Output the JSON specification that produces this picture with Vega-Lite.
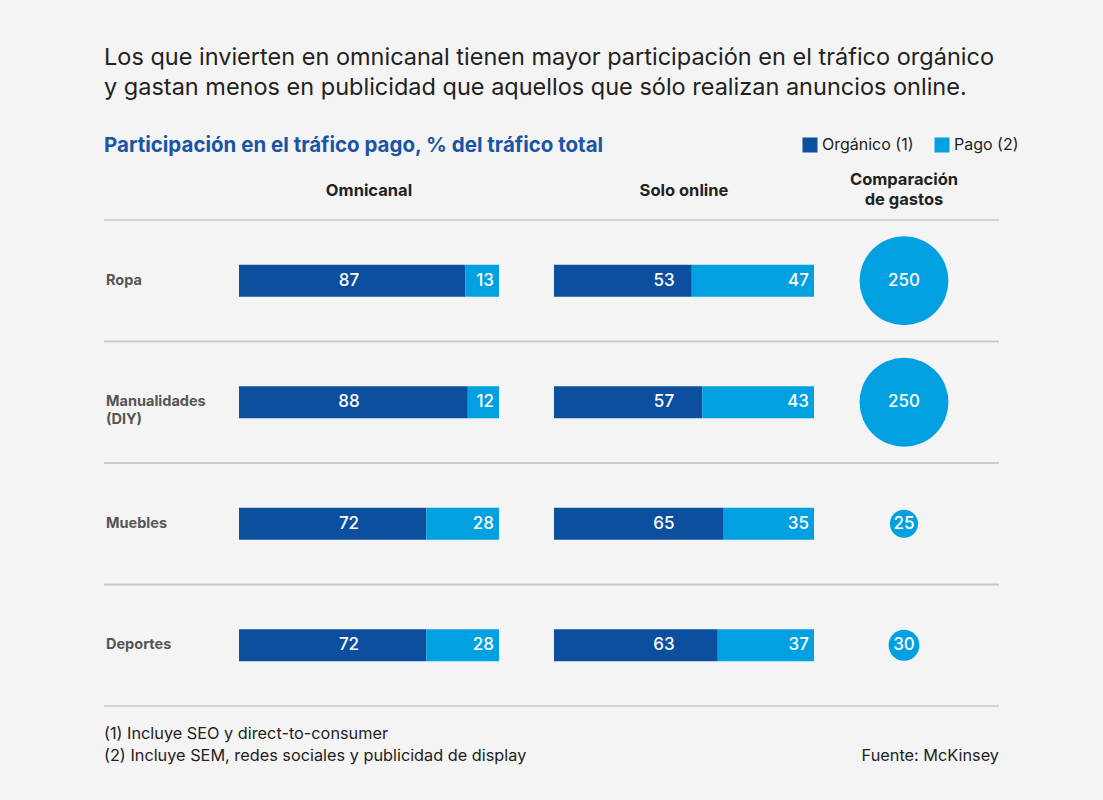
{
  "$schema": "https://vega.github.io/schema/vega-lite/v6.json",
  "background": "#f4f4f4",
  "padding": {"left": 103, "right": 105, "top": 46, "bottom": 34},
  "config": {"view": {"stroke": null}, "font": "Inter"},
  "title": {
    "text": ["Los que invierten en omnicanal tienen mayor participación en el tráfico orgánico", "y gastan menos en publicidad que aquellos que sólo realizan anuncios online."],
    "subtitle": "Participación en el tráfico pago, % del tráfico total",
    "anchor": "start",
    "frame": "group",
    "font": "Inter",
    "fontSize": 23.5,
    "fontWeight": "normal",
    "color": "#222222",
    "lineHeight": 30,
    "subtitleFont": "Inter",
    "subtitleFontSize": 20.5,
    "subtitleFontWeight": "bold",
    "subtitleColor": "#1a55a5",
    "subtitlePadding": 36,
    "offset": -19
  },
  "datasets": {
    "cats": [
      {"cat": "Ropa", "label": "Ropa"},
      {"cat": "Manualidades (DIY)", "label": "Manualidades\n(DIY)"},
      {"cat": "Muebles", "label": "Muebles"},
      {"cat": "Deportes", "label": "Deportes"}
    ],
    "bars": [
      {"cat": "Ropa", "panel": "Omnicanal", "type": "Orgánico (1)", "value": 87},
      {"cat": "Ropa", "panel": "Omnicanal", "type": "Pago (2)", "value": 13},
      {"cat": "Manualidades (DIY)", "panel": "Omnicanal", "type": "Orgánico (1)", "value": 88},
      {"cat": "Manualidades (DIY)", "panel": "Omnicanal", "type": "Pago (2)", "value": 12},
      {"cat": "Muebles", "panel": "Omnicanal", "type": "Orgánico (1)", "value": 72},
      {"cat": "Muebles", "panel": "Omnicanal", "type": "Pago (2)", "value": 28},
      {"cat": "Deportes", "panel": "Omnicanal", "type": "Orgánico (1)", "value": 72},
      {"cat": "Deportes", "panel": "Omnicanal", "type": "Pago (2)", "value": 28},
      {"cat": "Ropa", "panel": "Solo online", "type": "Orgánico (1)", "value": 53},
      {"cat": "Ropa", "panel": "Solo online", "type": "Pago (2)", "value": 47},
      {"cat": "Manualidades (DIY)", "panel": "Solo online", "type": "Orgánico (1)", "value": 57},
      {"cat": "Manualidades (DIY)", "panel": "Solo online", "type": "Pago (2)", "value": 43},
      {"cat": "Muebles", "panel": "Solo online", "type": "Orgánico (1)", "value": 65},
      {"cat": "Muebles", "panel": "Solo online", "type": "Pago (2)", "value": 35},
      {"cat": "Deportes", "panel": "Solo online", "type": "Orgánico (1)", "value": 63},
      {"cat": "Deportes", "panel": "Solo online", "type": "Pago (2)", "value": 37}
    ],
    "spend": [
      {"cat": "Ropa", "spend": 250},
      {"cat": "Manualidades (DIY)", "spend": 250},
      {"cat": "Muebles", "spend": 25},
      {"cat": "Deportes", "spend": 30}
    ],
    "notes": [
      {"side": "left", "line": 1, "text": "(1)  Incluye SEO y direct-to-consumer"},
      {"side": "left", "line": 2, "text": "(2) Incluye SEM, redes sociales y publicidad de display"},
      {"side": "right", "line": 2, "text": "Fuente: McKinsey"}
    ]
  },
  "spacing": 16,
  "vconcat": [
    {
      "spacing": 0,
      "bounds": "flush",
      "hconcat": [
        {
          "width": 135,
          "height": 486,
          "data": {"name": "cats"},
          "layer": [
            {
              "mark": {"type": "rule", "color": "#c8c8c8", "strokeWidth": 1.5},
              "encoding": {"y": {"field": "cat", "type": "nominal", "bandPosition": 0, "sort": ["Ropa", "Manualidades (DIY)", "Muebles", "Deportes"], "scale": {"type": "band", "paddingInner": 0, "paddingOuter": 0}, "axis": null}}
            },
            {
              "mark": {"type": "rule", "color": "#c8c8c8", "strokeWidth": 1.5},
              "encoding": {"y": {"field": "cat", "type": "nominal", "bandPosition": 1, "sort": ["Ropa", "Manualidades (DIY)", "Muebles", "Deportes"], "axis": null}}
            },
            {
              "mark": {"type": "text", "align": "left", "baseline": "middle", "fontSize": 14.5, "fontWeight": "bold", "color": "#555555", "lineBreak": "\n", "lineHeight": 18, "dx": 2},
              "encoding": {
                "y": {"field": "cat", "type": "nominal", "sort": ["Ropa", "Manualidades (DIY)", "Muebles", "Deportes"], "axis": null},
                "x": {"datum": 0, "type": "quantitative", "scale": {"domain": [0, 1]}, "axis": null},
                "text": {"field": "label"}
              }
            }
          ]
        },
        {
          "width": 315,
          "height": 486,
          "title": {"text": "Omnicanal", "dx": -27.5, "offset": 20, "fontSize": 16.5, "fontWeight": "bold", "color": "#222222", "anchor": "middle"},
          "layer": [
            {
              "data": {"name": "cats"},
              "mark": {"type": "rule", "color": "#c8c8c8", "strokeWidth": 1.5},
              "encoding": {"y": {"field": "cat", "type": "nominal", "bandPosition": 0, "sort": ["Ropa", "Manualidades (DIY)", "Muebles", "Deportes"], "scale": {"type": "band", "paddingInner": 0, "paddingOuter": 0}, "axis": null}}
            },
            {
              "data": {"name": "cats"},
              "mark": {"type": "rule", "color": "#c8c8c8", "strokeWidth": 1.5},
              "encoding": {"y": {"field": "cat", "type": "nominal", "bandPosition": 1, "sort": ["Ropa", "Manualidades (DIY)", "Muebles", "Deportes"], "axis": null}}
            },
            {
              "data": {"name": "bars"},
              "transform": [{"filter": "datum.panel === 'Omnicanal'"}],
              "mark": {"type": "bar", "height": 32},
              "encoding": {
                "y": {"field": "cat", "type": "nominal", "sort": ["Ropa", "Manualidades (DIY)", "Muebles", "Deportes"], "axis": null},
                "x": {"field": "value", "type": "quantitative", "stack": "zero", "scale": {"domain": [0, 121.154], "nice": false}, "axis": null},
                "color": {
                  "field": "type", "type": "nominal",
                  "scale": {"domain": ["Orgánico (1)", "Pago (2)"], "range": ["#0d4f9f", "#00a0e1"]},
                  "legend": {"title": null, "orient": "none", "legendX": 698, "legendY": -83, "direction": "horizontal", "symbolType": "square", "symbolSize": 225, "symbolStrokeWidth": 0, "symbolOpacity": 1, "labelFont": "Inter", "labelFontSize": 16, "labelColor": "#222222", "columnPadding": 20, "labelOffset": 4}
                }
              }
            },
            {
              "data": {"name": "bars"},
              "transform": [{"filter": "datum.panel === 'Omnicanal' && datum.type === 'Orgánico (1)'"}],
              "mark": {"type": "text", "align": "center", "baseline": "middle", "fontSize": 17, "fontWeight": 500, "color": "white"},
              "encoding": {
                "y": {"field": "cat", "type": "nominal", "sort": ["Ropa", "Manualidades (DIY)", "Muebles", "Deportes"], "axis": null},
                "x": {"datum": 42.3, "type": "quantitative"},
                "text": {"field": "value"}
              }
            },
            {
              "data": {"name": "bars"},
              "transform": [{"filter": "datum.panel === 'Omnicanal' && datum.type === 'Pago (2)'"}],
              "mark": {"type": "text", "align": "right", "baseline": "middle", "fontSize": 17, "fontWeight": 500, "color": "white", "dx": -5},
              "encoding": {
                "y": {"field": "cat", "type": "nominal", "sort": ["Ropa", "Manualidades (DIY)", "Muebles", "Deportes"], "axis": null},
                "x": {"datum": 100, "type": "quantitative"},
                "text": {"field": "value"}
              }
            }
          ]
        },
        {
          "width": 305,
          "height": 486,
          "title": {"text": "Solo online", "dx": -22.5, "offset": 20, "fontSize": 16.5, "fontWeight": "bold", "color": "#222222", "anchor": "middle"},
          "layer": [
            {
              "data": {"name": "cats"},
              "mark": {"type": "rule", "color": "#c8c8c8", "strokeWidth": 1.5},
              "encoding": {"y": {"field": "cat", "type": "nominal", "bandPosition": 0, "sort": ["Ropa", "Manualidades (DIY)", "Muebles", "Deportes"], "scale": {"type": "band", "paddingInner": 0, "paddingOuter": 0}, "axis": null}}
            },
            {
              "data": {"name": "cats"},
              "mark": {"type": "rule", "color": "#c8c8c8", "strokeWidth": 1.5},
              "encoding": {"y": {"field": "cat", "type": "nominal", "bandPosition": 1, "sort": ["Ropa", "Manualidades (DIY)", "Muebles", "Deportes"], "axis": null}}
            },
            {
              "data": {"name": "bars"},
              "transform": [{"filter": "datum.panel === 'Solo online'"}],
              "mark": {"type": "bar", "height": 32},
              "encoding": {
                "y": {"field": "cat", "type": "nominal", "sort": ["Ropa", "Manualidades (DIY)", "Muebles", "Deportes"], "axis": null},
                "x": {"field": "value", "type": "quantitative", "stack": "zero", "scale": {"domain": [0, 117.31], "nice": false}, "axis": null},
                "color": {"field": "type", "type": "nominal"}
              }
            },
            {
              "data": {"name": "bars"},
              "transform": [{"filter": "datum.panel === 'Solo online' && datum.type === 'Orgánico (1)'"}],
              "mark": {"type": "text", "align": "center", "baseline": "middle", "fontSize": 17, "fontWeight": 500, "color": "white"},
              "encoding": {
                "y": {"field": "cat", "type": "nominal", "sort": ["Ropa", "Manualidades (DIY)", "Muebles", "Deportes"], "axis": null},
                "x": {"datum": 42.3, "type": "quantitative"},
                "text": {"field": "value"}
              }
            },
            {
              "data": {"name": "bars"},
              "transform": [{"filter": "datum.panel === 'Solo online' && datum.type === 'Pago (2)'"}],
              "mark": {"type": "text", "align": "right", "baseline": "middle", "fontSize": 17, "fontWeight": 500, "color": "white", "dx": -5},
              "encoding": {
                "y": {"field": "cat", "type": "nominal", "sort": ["Ropa", "Manualidades (DIY)", "Muebles", "Deportes"], "axis": null},
                "x": {"datum": 100, "type": "quantitative"},
                "text": {"field": "value"}
              }
            }
          ]
        },
        {
          "width": 90,
          "height": 486,
          "title": {"text": ["Comparación", "de gastos"], "offset": 11, "fontSize": 16.5, "fontWeight": "bold", "color": "#222222", "anchor": "middle", "lineHeight": 20},
          "layer": [
            {
              "data": {"name": "cats"},
              "mark": {"type": "rule", "color": "#c8c8c8", "strokeWidth": 1.5},
              "encoding": {"y": {"field": "cat", "type": "nominal", "bandPosition": 0, "sort": ["Ropa", "Manualidades (DIY)", "Muebles", "Deportes"], "scale": {"type": "band", "paddingInner": 0, "paddingOuter": 0}, "axis": null}}
            },
            {
              "data": {"name": "cats"},
              "mark": {"type": "rule", "color": "#c8c8c8", "strokeWidth": 1.5},
              "encoding": {"y": {"field": "cat", "type": "nominal", "bandPosition": 1, "sort": ["Ropa", "Manualidades (DIY)", "Muebles", "Deportes"], "axis": null}}
            },
            {
              "data": {"name": "spend"},
              "mark": {"type": "circle", "opacity": 1, "color": "#00a0e1"},
              "encoding": {
                "y": {"field": "cat", "type": "nominal", "sort": ["Ropa", "Manualidades (DIY)", "Muebles", "Deportes"], "axis": null},
                "size": {"field": "spend", "type": "quantitative", "scale": {"domain": [0, 250], "range": [0, 7900]}, "legend": null}
              }
            },
            {
              "data": {"name": "spend"},
              "mark": {"type": "text", "align": "center", "baseline": "middle", "fontSize": 17, "fontWeight": 500, "color": "white"},
              "encoding": {
                "y": {"field": "cat", "type": "nominal", "sort": ["Ropa", "Manualidades (DIY)", "Muebles", "Deportes"], "axis": null},
                "text": {"field": "spend"}
              }
            }
          ]
        },
        {
          "width": 50,
          "height": 486,
          "data": {"name": "cats"},
          "layer": [
            {
              "mark": {"type": "rule", "color": "#c8c8c8", "strokeWidth": 1.5},
              "encoding": {"y": {"field": "cat", "type": "nominal", "bandPosition": 0, "sort": ["Ropa", "Manualidades (DIY)", "Muebles", "Deportes"], "scale": {"type": "band", "paddingInner": 0, "paddingOuter": 0}, "axis": null}}
            },
            {
              "mark": {"type": "rule", "color": "#c8c8c8", "strokeWidth": 1.5},
              "encoding": {"y": {"field": "cat", "type": "nominal", "bandPosition": 1, "sort": ["Ropa", "Manualidades (DIY)", "Muebles", "Deportes"], "axis": null}}
            }
          ]
        }
      ]
    },
    {
      "width": 895,
      "height": 44,
      "data": {"name": "notes"},
      "layer": [
        {
          "transform": [{"filter": "datum.side === 'left'"}],
          "mark": {"type": "text", "align": "left", "baseline": "middle", "fontSize": 16.3, "color": "#222222"},
          "encoding": {
            "x": {"field": "side", "type": "nominal", "scale": {"type": "point", "domain": ["left", "right"], "padding": 0}, "axis": null},
            "y": {"field": "line", "type": "ordinal", "scale": {"type": "point", "domain": [1, 2], "padding": 0.5}, "axis": null},
            "text": {"field": "text"}
          }
        },
        {
          "transform": [{"filter": "datum.side === 'right'"}],
          "mark": {"type": "text", "align": "right", "baseline": "middle", "fontSize": 16.3, "color": "#222222"},
          "encoding": {
            "x": {"field": "side", "type": "nominal", "axis": null},
            "y": {"field": "line", "type": "ordinal", "axis": null},
            "text": {"field": "text"}
          }
        }
      ]
    }
  ]
}
